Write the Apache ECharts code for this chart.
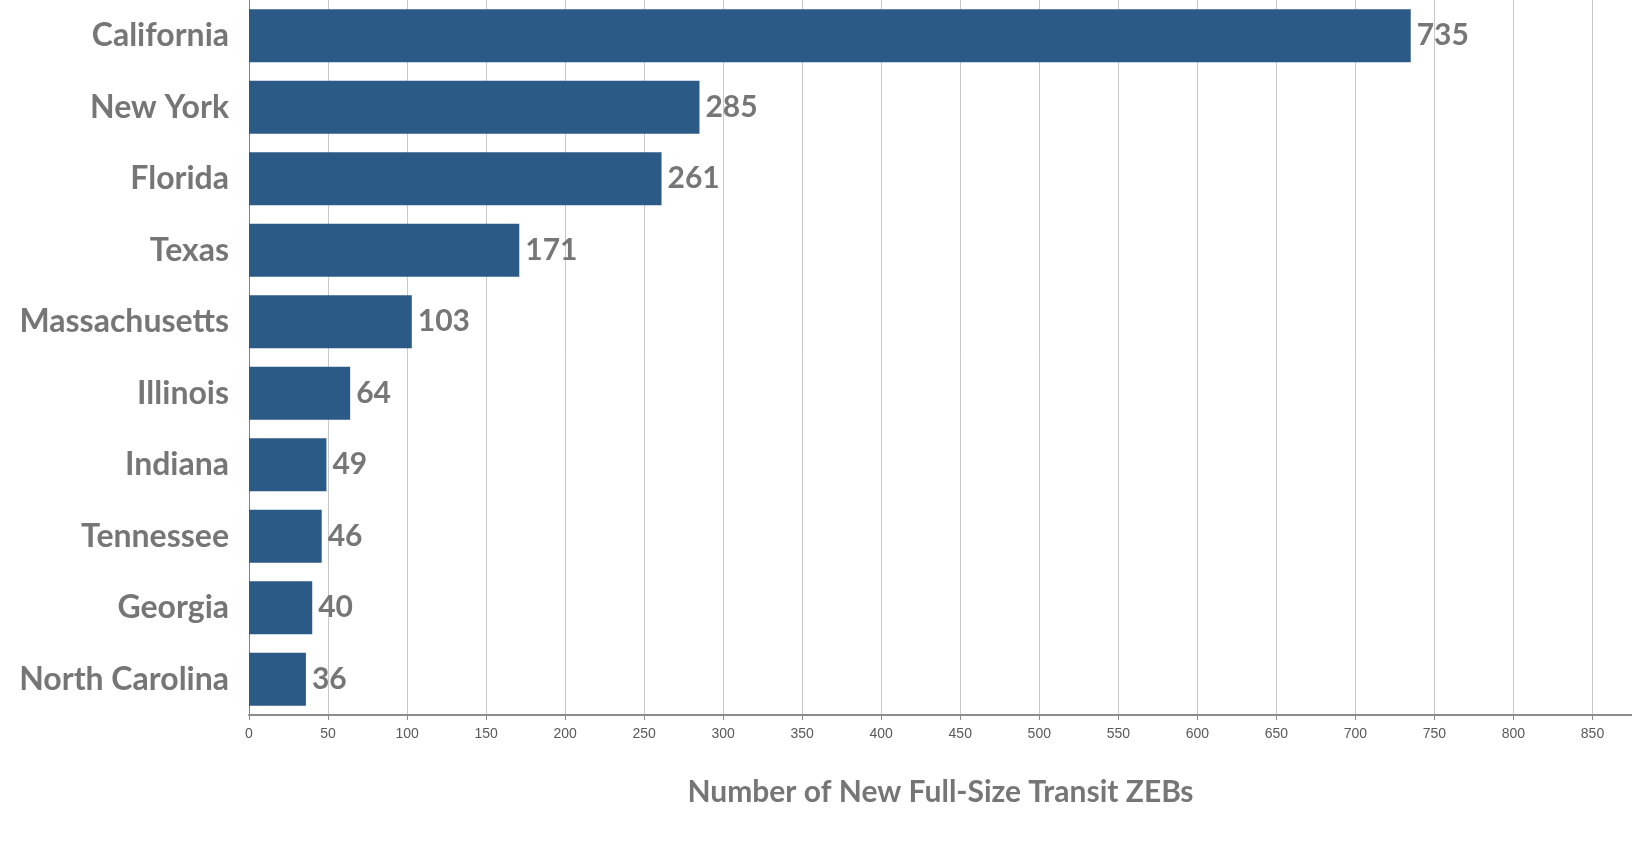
<!DOCTYPE html>
<html>
<head>
<meta charset="utf-8">
<script src="https://cdn.jsdelivr.net/npm/echarts@6/dist/echarts.min.js"></script>
<style>
html,body{margin:0;padding:0;background:#fff;}
#chart{width:1632px;height:846px;}
</style>
</head>
<body>
<div id="chart"></div>
<script>
const categories = ["California","New York","Florida","Texas","Massachusetts","Illinois","Indiana","Tennessee","Georgia","North Carolina"];
const values = [735, 285, 261, 171, 103, 64, 49, 46, 40, 36];
const axisTitle = "Number of New Full-Size Transit ZEBs";

const chart = echarts.init(document.getElementById('chart'));
chart.setOption({
  animation: false,
  grid: { left: 249, right: 0, top: 0, bottom: 131 },
  xAxis: {
    type: 'value', min: 0, max: 875, interval: 50,
    name: axisTitle, nameLocation: 'middle', nameGap: 62,
    nameTextStyle: { fontFamily: 'Lato', fontWeight: 'bold', fontSize: 30, color: '#767676' },
    axisLine: { show: true, lineStyle: { color: '#8c8c8c', width: 2 } },
    axisTick: { show: true, length: 5, lineStyle: { color: '#8c8c8c' } },
    axisLabel: { showMaxLabel: false, margin: 12, fontFamily: 'Liberation Sans', fontSize: 14, color: '#595959' },
    splitLine: { show: true, lineStyle: { color: '#c8c8c8', width: 1 } }
  },
  yAxis: {
    type: 'category', data: categories, inverse: true,
    axisLine: { show: true, lineStyle: { color: '#808080', width: 1 } },
    axisTick: { show: false },
    axisLabel: { margin: 20, fontFamily: 'Lato', fontWeight: 'bold', fontSize: 32, color: '#767676' }
  },
  series: [{
    type: 'bar', data: values, barWidth: 53,
    itemStyle: { color: '#2C5A87' },
    label: { show: true, position: 'right', distance: 6, fontFamily: 'Lato', fontWeight: 'bold', fontSize: 30, color: '#767676' }
  }]
});
</script>
</body>
</html>
